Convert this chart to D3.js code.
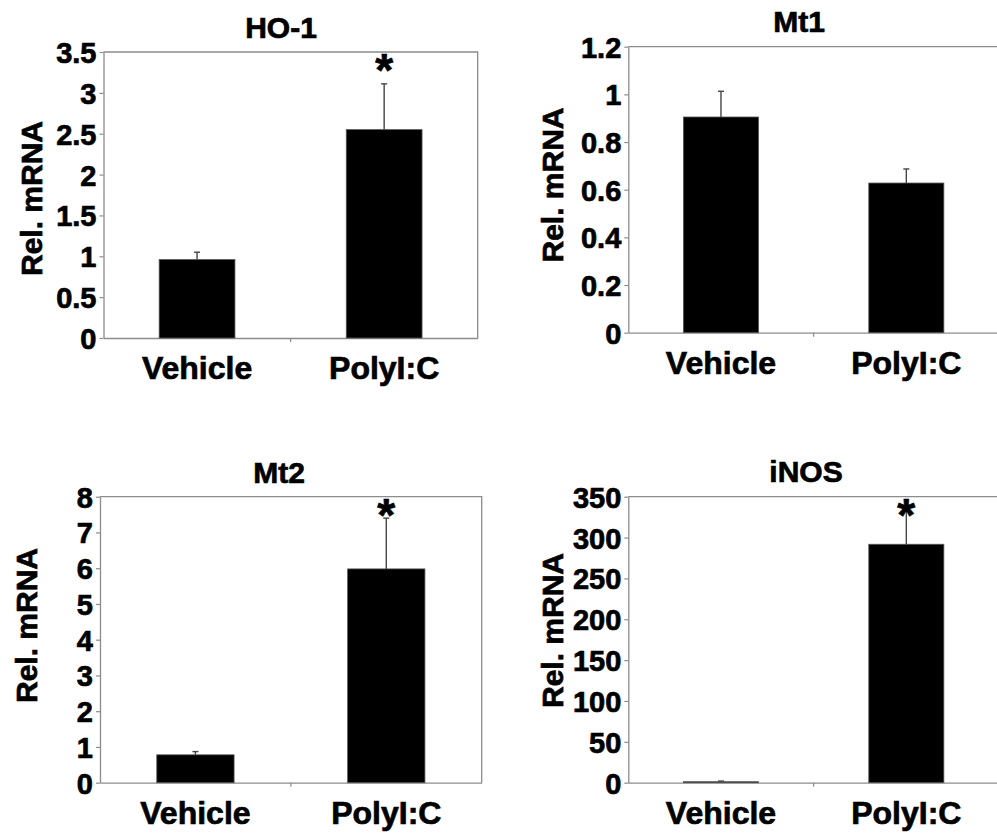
<!DOCTYPE html>
<html>
<head>
<meta charset="utf-8">
<script src="https://cdn.jsdelivr.net/npm/d3@7"></script>
<style>
  html, body { margin: 0; padding: 0; background: #fff; }
  svg { display: block; }
  text { font-family: "Liberation Sans", Arial, Helvetica, sans-serif; font-weight: bold; fill: #000; stroke: #000; stroke-width: 0.7px; }
</style>
</head>
<body>
<svg id="chart" width="997" height="836"></svg>
<script>
// ---- Data ----
const categories = ["Vehicle", "PolyI:C"];
const titles = ["HO-1", "Mt1", "Mt2", "iNOS"];
const yAxisLabel = "Rel. mRNA";

const hoValues = [0.96, 2.55];
const hoErrors = [0.09, 0.56];
const hoStars = [false, true];
const hoTicks = [0, 0.5, 1, 1.5, 2, 2.5, 3, 3.5];

const mt1Values = [0.905, 0.628];
const mt1Errors = [0.108, 0.059];
const mt1Stars = [false, false];
const mt1Ticks = [0, 0.2, 0.4, 0.6, 0.8, 1, 1.2];

const mt2Values = [0.78, 5.98];
const mt2Errors = [0.09, 1.42];
const mt2Stars = [false, true];
const mt2Ticks = [0, 1, 2, 3, 4, 5, 6, 7, 8];

const inosValues = [1.2, 291.8];
const inosErrors = [0.8, 41];
const inosStars = [false, true];
const inosTicks = [0, 50, 100, 150, 200, 250, 300, 350];

// ---- Layout (positions only) ----
const layouts = [
  { left: 103.5, top: 52,    right: 477.7, bottom: 338,   ylabX: 42,    ylabY: 198.5, titleX: 281, titleY: 38 },
  { left: 628.3, top: 46.7,  right: 999,   bottom: 332.7, ylabX: 563,   ylabY: 185,   titleX: 799, titleY: 32 },
  { left: 100,   top: 496.7, right: 481.7, bottom: 782.7, ylabX: 37,    ylabY: 625.5, titleX: 279, titleY: 482.7 },
  { left: 628.3, top: 496.7, right: 999,   bottom: 782.7, ylabX: 562.7, ylabY: 630.5, titleX: 806, titleY: 482 }
];

const panels = [
  { values: hoValues,   errors: hoErrors,   stars: hoStars,   ticks: hoTicks },
  { values: mt1Values,  errors: mt1Errors,  stars: mt1Stars,  ticks: mt1Ticks },
  { values: mt2Values,  errors: mt2Errors,  stars: mt2Stars,  ticks: mt2Ticks },
  { values: inosValues, errors: inosErrors, stars: inosStars, ticks: inosTicks }
];

const svg = d3.select("#chart");
const frameColor = "#8c8c8c";

panels.forEach((p, i) => {
  const L = layouts[i];
  const w = L.right - L.left, h = L.bottom - L.top;
  const g = svg.append("g").attr("transform", `translate(${L.left},${L.top})`);

  const x = d3.scaleBand().domain(categories).range([0, w]).paddingInner(0).paddingOuter(0);
  const y = d3.scaleLinear().domain([0, d3.max(p.ticks)]).range([h, 0]);
  const barW = x.bandwidth() * 0.405;

  // frame (top & right)
  g.append("path")
    .attr("d", `M0,0H${w}V${h}`)
    .attr("fill", "none").attr("stroke", frameColor).attr("stroke-width", 1.3);

  // y axis
  const ya = g.append("g").call(
    d3.axisLeft(y).tickValues(p.ticks).tickFormat(d => String(d)).tickSizeInner(4).tickSizeOuter(0).tickPadding(3)
  );
  ya.select(".domain").attr("stroke", frameColor).attr("stroke-width", 1.3);
  ya.selectAll(".tick line").attr("stroke", frameColor).attr("stroke-width", 1.2);
  ya.selectAll(".tick text")
    .style("font-size", "29px").style("font-weight", "bold")
    .style("font-family", '"Liberation Sans", Arial, sans-serif').attr("fill", "#000")
    .attr("dy", "0.36em");

  // x axis
  const xa = g.append("g").attr("transform", `translate(0,${h})`).call(
    d3.axisBottom(x).tickSize(0).tickPadding(0)
  );
  xa.select(".domain").attr("stroke", frameColor).attr("stroke-width", 1.3);
  xa.selectAll(".tick text").remove();
  // category boundary ticks
  g.append("g").selectAll("line").data(categories.slice(1)).join("line")
    .attr("x1", d => x(d)).attr("x2", d => x(d))
    .attr("y1", h).attr("y2", h + 4)
    .attr("stroke", frameColor).attr("stroke-width", 1.2);

  // category labels
  g.append("g").selectAll("text").data(categories).join("text")
    .attr("x", d => x(d) + x.bandwidth() / 2)
    .attr("y", h + 41)
    .attr("text-anchor", "middle")
    .style("font-size", "32px")
    .text(d => d);

  const rows = categories.map((c, k) => ({ c, v: p.values[k], e: p.errors[k], s: p.stars[k] }));

  // error bars (upper only)
  const eb = g.append("g").attr("stroke", "#444").attr("stroke-width", 1.4);
  eb.selectAll("line.v").data(rows).join("line").attr("class", "v")
    .attr("x1", d => x(d.c) + x.bandwidth() / 2).attr("x2", d => x(d.c) + x.bandwidth() / 2)
    .attr("y1", d => y(d.v)).attr("y2", d => y(d.v + d.e));
  eb.selectAll("line.cap").data(rows).join("line").attr("class", "cap")
    .attr("x1", d => x(d.c) + x.bandwidth() / 2 - 3).attr("x2", d => x(d.c) + x.bandwidth() / 2 + 3)
    .attr("y1", d => y(d.v + d.e)).attr("y2", d => y(d.v + d.e));

  // bars
  g.append("g").selectAll("rect").data(rows).join("rect")
    .attr("x", d => x(d.c) + (x.bandwidth() - barW) / 2)
    .attr("width", barW)
    .attr("y", d => y(d.v))
    .attr("height", d => Math.max(1, y(0) - y(d.v)))
    .attr("fill", "#000").attr("stroke", "#555").attr("stroke-width", 0.8);

  // significance stars
  g.append("g").selectAll("text").data(rows.filter(d => d.s)).join("text")
    .attr("x", d => x(d.c) + x.bandwidth() / 2)
    .attr("y", 34)
    .attr("text-anchor", "middle")
    .style("font-size", "46px")
    .text("*");

  // title
  svg.append("text")
    .attr("x", L.titleX).attr("y", L.titleY)
    .attr("text-anchor", "middle")
    .style("font-size", "30px")
    .text(titles[i]);

  // y label
  svg.append("text")
    .attr("transform", `translate(${L.ylabX},${L.ylabY}) rotate(-90)`)
    .attr("text-anchor", "middle")
    .style("font-size", "30px")
    .text(yAxisLabel);
});
</script>
</body>
</html>
